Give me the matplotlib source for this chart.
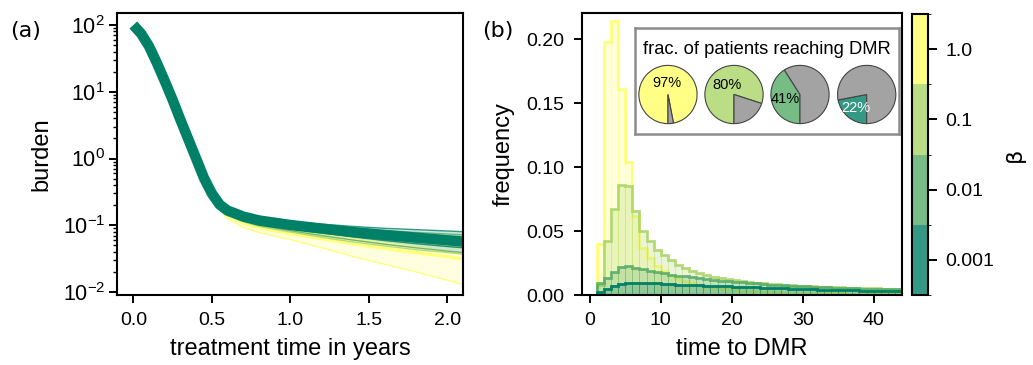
import numpy as np
import matplotlib
matplotlib.use('Agg')
import matplotlib.pyplot as plt
from matplotlib.colors import ListedColormap, BoundaryNorm
from matplotlib.cm import ScalarMappable

plt.rcParams['font.family'] = ['Liberation Sans', 'DejaVu Sans']
plt.rcParams['mathtext.default'] = 'regular'

# beta values, from weakest to strongest effect
betas = [0.001, 0.01, 0.1, 1.0]
beta_labels = ['0.001', '0.01', '0.1', '1.0']

# (a) burden over treatment time: shared fast decline, then one tail per beta
t_early = [0.0, 0.05, 0.1, 0.15, 0.2, 0.25, 0.3, 0.35, 0.4]
burden_early = [100, 74, 48, 27, 14.5, 7.6, 3.8, 1.95, 1.0]

t_tail = [0.45, 0.5, 0.55, 0.6, 0.7, 0.8, 1.0, 1.2, 1.4, 1.6, 1.8, 2.0, 2.1]
med_0001 = [0.51, 0.30, 0.204, 0.166, 0.135, 0.118, 0.101, 0.089, 0.079, 0.0716, 0.0653, 0.0596, 0.057]
lo_0001 = [0.51, 0.29, 0.195, 0.155, 0.124, 0.106, 0.089, 0.077, 0.067, 0.059, 0.053, 0.048, 0.046]
hi_0001 = [0.51, 0.31, 0.215, 0.178, 0.146, 0.130, 0.114, 0.104, 0.096, 0.090, 0.086, 0.082, 0.080]
med_001 = [0.51, 0.295, 0.20, 0.162, 0.131, 0.114, 0.097, 0.085, 0.075, 0.067, 0.061, 0.0555, 0.053]
lo_001 = [0.51, 0.285, 0.19, 0.15, 0.118, 0.10, 0.083, 0.07, 0.06, 0.052, 0.046, 0.041, 0.039]
hi_001 = [0.51, 0.305, 0.21, 0.172, 0.142, 0.126, 0.109, 0.098, 0.09, 0.083, 0.078, 0.074, 0.072]
med_01 = [0.51, 0.29, 0.195, 0.157, 0.126, 0.109, 0.092, 0.08, 0.07, 0.062, 0.056, 0.051, 0.048]
lo_01 = [0.51, 0.28, 0.185, 0.146, 0.113, 0.096, 0.079, 0.066, 0.056, 0.049, 0.043, 0.039, 0.037]
hi_01 = [0.51, 0.30, 0.205, 0.168, 0.138, 0.122, 0.105, 0.094, 0.086, 0.079, 0.074, 0.07, 0.068]
med_1 = [0.51, 0.28, 0.18, 0.14, 0.108, 0.092, 0.075, 0.063, 0.053, 0.045, 0.039, 0.034, 0.031]
lo_1 = [0.51, 0.26, 0.17, 0.125, 0.093, 0.078, 0.061, 0.046, 0.034, 0.026, 0.02, 0.015, 0.013]
hi_1 = [0.51, 0.285, 0.19, 0.15, 0.118, 0.101, 0.084, 0.072, 0.062, 0.054, 0.047, 0.040, 0.037]

# (b) time to DMR histograms, bins of one unit starting at 1
dmr_edges = np.arange(1, 45)
freq_1 = [0.040, 0.198, 0.214, 0.161, 0.104, 0.062, 0.037, 0.029, 0.023, 0.019,
          0.0155, 0.0128, 0.0106, 0.009, 0.0077, 0.0066, 0.0057, 0.005, 0.0044, 0.0039,
          0.0035, 0.0031, 0.0028, 0.0025, 0.0023, 0.0021, 0.0019, 0.0018, 0.0017, 0.0016,
          0.0015, 0.0014, 0.0013, 0.0012, 0.0012, 0.0011, 0.0011, 0.001, 0.001, 0.0009,
          0.0009, 0.0009, 0.0008]
freq_01 = [0.008, 0.042, 0.067, 0.086, 0.085, 0.066, 0.050, 0.042, 0.035, 0.031,
           0.027, 0.0235, 0.021, 0.019, 0.017, 0.0155, 0.0143, 0.0133, 0.0124, 0.0116,
           0.0109, 0.0103, 0.0097, 0.0092, 0.0087, 0.0083, 0.0079, 0.0076, 0.0074, 0.0072,
           0.0069, 0.0066, 0.0064, 0.0062, 0.006, 0.0058, 0.0056, 0.0054, 0.0053, 0.0051,
           0.005, 0.0049, 0.0048]
freq_001 = [0.009, 0.013, 0.018, 0.022, 0.0228, 0.0215, 0.020, 0.019, 0.018, 0.017,
            0.016, 0.0152, 0.0145, 0.0138, 0.0131, 0.0125, 0.0119, 0.0113, 0.0108, 0.0103,
            0.0098, 0.0094, 0.009, 0.0086, 0.0082, 0.0079, 0.0076, 0.0073, 0.007, 0.0067,
            0.0065, 0.0062, 0.006, 0.0058, 0.0056, 0.0054, 0.0052, 0.0050, 0.0049, 0.0047,
            0.0046, 0.0045, 0.0044]
freq_0001 = [0.002, 0.005, 0.007, 0.0085, 0.0093, 0.0097, 0.0097, 0.0094, 0.0091, 0.0088,
             0.0085, 0.0082, 0.0080, 0.0078, 0.0076, 0.0074, 0.0072, 0.0070, 0.0068, 0.0066,
             0.0064, 0.0062, 0.006, 0.0058, 0.0056, 0.0054, 0.0052, 0.005, 0.0048, 0.0046,
             0.0044, 0.0042, 0.0041, 0.004, 0.0038, 0.0037, 0.0036, 0.0034, 0.0033, 0.0032,
             0.0031, 0.003, 0.0029]

# percent of patients reaching DMR, same order as betas
dmr_percent = [22, 41, 80, 97]

tails = {0.001: (lo_0001, med_0001, hi_0001), 0.01: (lo_001, med_001, hi_001),
         0.1: (lo_01, med_01, hi_01), 1.0: (lo_1, med_1, hi_1)}
hists = {0.001: freq_0001, 0.01: freq_001, 0.1: freq_01, 1.0: freq_1}

summer = plt.get_cmap('summer')
line_colors = [summer(k / 3) for k in range(4)]
# lighter version used for the colorbar and the pies
soft_colors = [tuple(0.8 * np.array(c[:3]) + 0.2) for c in line_colors]

W, H = 1033, 365
fig = plt.figure(figsize=(W / 100, H / 100), dpi=100)

def box(x0, y0, x1, y1):
    # pixel box (from top-left) -> figure fraction rect
    return [x0 / W, 1 - y1 / H, (x1 - x0) / W, (y1 - y0) / H]

ax_a = fig.add_axes(box(117, 13, 463, 295))
ax_b = fig.add_axes(box(582, 13, 902, 295))
cax = fig.add_axes(box(912, 14, 928, 295))

# ---- panel (a)
t_all = np.concatenate([t_early, t_tail])
for k in [3, 2, 1, 0]:
    b = betas[k]
    lo, med, hi = tails[b]
    c = line_colors[k]
    lo_all = np.concatenate([burden_early, lo])
    hi_all = np.concatenate([burden_early, hi])
    med_all = np.concatenate([burden_early, med])
    ax_a.fill_between(t_all, lo_all, hi_all, color=c, alpha=0.2, lw=0)
    ax_a.plot(t_all[8:], lo_all[8:], color=c, lw=1, alpha=0.8)
    ax_a.plot(t_all[8:], hi_all[8:], color=c, lw=1, alpha=0.8)
    if k == 0:
        ax_a.plot(t_all, med_all, color=c, lw=7.5, solid_capstyle='butt')
    else:
        ax_a.plot(t_all[8:], med_all[8:], color=c, lw=2.5, alpha=0.8)

ax_a.set_yscale('log')
ax_a.set_ylim(10 ** -2.045, 10 ** 2.18)
ax_a.set_xlim(-0.104, 2.1)
ax_a.set_xticks([0.0, 0.5, 1.0, 1.5, 2.0])
ax_a.set_xticklabels(['0.0', '0.5', '1.0', '1.5', '2.0'])
ax_a.set_xlabel('treatment time in years', fontsize=17, labelpad=6)
ax_a.set_ylabel('burden', fontsize=17, labelpad=7)

# ---- panel (b)
for k in [3, 2, 1, 0]:
    b = betas[k]
    vals = hists[b]
    c = line_colors[k]
    ax_b.bar(dmr_edges[:-1], vals, width=1, align='edge', color=c, alpha=0.25,
             edgecolor=c, linewidth=0.6)
    ax_b.stairs(vals, dmr_edges, color=c, lw=2, alpha=0.85 if k > 0 else 1)

ax_b.set_xlim(-1.1, 44)
ax_b.set_ylim(0, 0.2206)
ax_b.set_xticks([0, 10, 20, 30, 40])
ax_b.set_yticks([0.0, 0.05, 0.10, 0.15, 0.20])
ax_b.set_yticklabels(['0.00', '0.05', '0.10', '0.15', '0.20'])
ax_b.set_xlabel('time to DMR', fontsize=17, labelpad=6)
ax_b.set_ylabel('frequency', fontsize=17, labelpad=9)

for ax in [ax_a, ax_b]:
    ax.tick_params(which='major', labelsize=14, width=1.4, length=5.5)
    ax.tick_params(which='minor', width=1.0, length=3.2)
    for s in ax.spines.values():
        s.set_linewidth(1.5)
ax_a.tick_params(axis='x', pad=7)
ax_a.tick_params(axis='y', which='both', pad=3, labelsize=15.5)
ax_b.tick_params(axis='both', pad=7)

fig.text(10 / W, 1 - 31 / H, '(a)', fontsize=16, va='center', family='DejaVu Sans')
fig.text(482 / W, 1 - 31 / H, '(b)', fontsize=16, va='center', family='DejaVu Sans')

# ---- inset with pies
inset = fig.add_axes(box(635, 28, 899, 134))
inset.set_xticks([])
inset.set_yticks([])
for s in inset.spines.values():
    s.set_edgecolor('#8c8c8c')
    s.set_linewidth(1.8)
inset.text(0.5, 0.8, 'frac. of patients reaching DMR', transform=inset.transAxes,
           ha='center', va='center', fontsize=13.2)

pie_x = [866.7, 800, 734, 668]
pct_dist = [0.58, 0.53, 0.42, 0.4]
for k in range(4):
    cx, cy, r = pie_x[k], 94.5, 30
    pax = fig.add_axes(box(cx - r, cy - r, cx + r, cy + r))
    p = dmr_percent[k]
    wedges, texts, autotexts = pax.pie(
        [p, 100 - p], colors=[soft_colors[k], '#a3a3a3'], startangle=270,
        counterclock=False, autopct='%d%%', pctdistance=pct_dist[k],
        wedgeprops=dict(edgecolor='#444444', linewidth=0.8),
        textprops=dict(fontsize=10.5))
    autotexts[1].set_text('')
    autotexts[0].set_color('white' if k == 0 else 'black')
    pax.set_xlim(-1.03, 1.03)
    pax.set_ylim(-1.03, 1.03)

# ---- discrete colorbar
cmap = ListedColormap(soft_colors)
norm = BoundaryNorm([0, 1, 2, 3, 4], 4)
cb = fig.colorbar(ScalarMappable(norm=norm, cmap=cmap), cax=cax)
cb.set_ticks([0.5, 1.5, 2.5, 3.5])
cb.set_ticklabels(beta_labels)
cb.ax.tick_params(labelsize=14, width=1.4, length=6.5, pad=6)
cb.outline.set_linewidth(1.5)
cb.set_label('β', fontsize=16, labelpad=8, family='DejaVu Sans')

fig.savefig('out.png', dpi=100)
